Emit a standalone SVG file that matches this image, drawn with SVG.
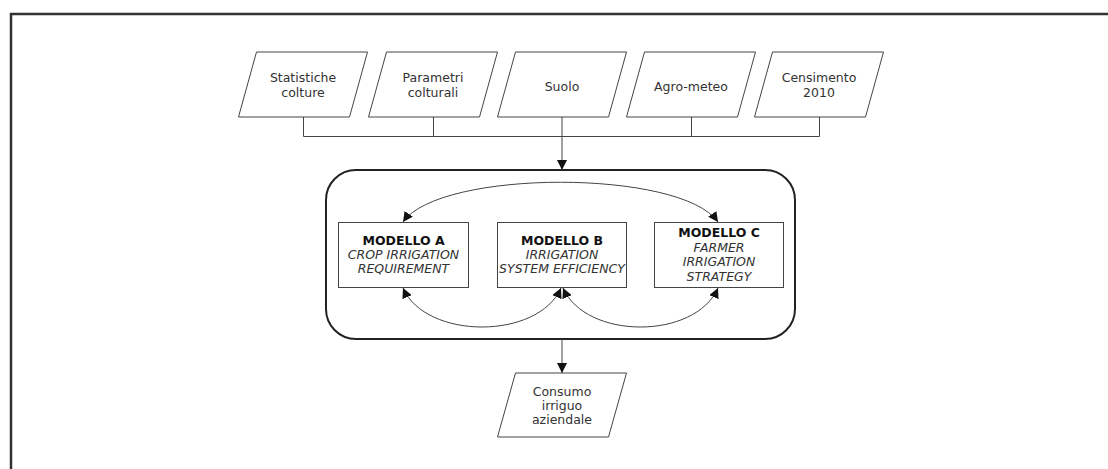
<svg xmlns="http://www.w3.org/2000/svg" width="1108" height="469" viewBox="0 0 1108 469">
<style>
.frame{fill:none;stroke:#333;stroke-width:2.5}
.io{fill:#fff;stroke:#444;stroke-width:1}
.box{fill:#fff;stroke:#444;stroke-width:1}
.group{fill:#fff;stroke:#222;stroke-width:2}
.t{font-family:"DejaVu Sans",Verdana,sans-serif;font-size:12.5px;fill:#333;text-anchor:middle}
.b{font-weight:bold;fill:#111}
.i{font-style:italic}
.c{fill:none;stroke:#444;stroke-width:1}
</style>
<defs>
<marker id="ah" viewBox="0 0 10 10" refX="10" refY="5" markerWidth="10" markerHeight="10" markerUnits="userSpaceOnUse" orient="auto-start-reverse">
<path d="M0,0 L10,5 L0,10 Z" fill="#111"/>
</marker>
</defs>
<rect width="1108" height="469" fill="#fff"/>
<path class="frame" d="M11,469 L11,14 L1108,14"/>

<g id="statistiche">
<polygon class="io" points="238.5,117 349.5,117 367.5,52 256.5,52"/>
<text class="t" x="303" y="82">Statistiche</text>
<text class="t" x="303" y="97">colture</text>
</g>
<g id="parametri">
<polygon class="io" points="368.5,117 479.5,117 497.5,52 386.5,52"/>
<text class="t" x="433" y="82">Parametri</text>
<text class="t" x="433" y="97">colturali</text>
</g>
<g id="suolo">
<polygon class="io" points="497.5,117 608.5,117 626.5,52 515.5,52"/>
<text class="t" x="562" y="91">Suolo</text>
</g>
<g id="agrometeo">
<polygon class="io" points="626.5,117 737.5,117 755.5,52 644.5,52"/>
<text class="t" x="691" y="91">Agro-meteo</text>
</g>
<g id="censimento">
<polygon class="io" points="754.5,117 865.5,117 883.5,52 772.5,52"/>
<text class="t" x="819" y="82">Censimento</text>
<text class="t" x="819" y="97">2010</text>
</g>

<g id="modelli">
<rect class="group" x="326" y="170" width="469" height="169" rx="30" ry="30"/>
</g>
<g id="modelloA">
<rect class="box" x="338.5" y="222.5" width="130" height="65"/>
<text class="t b" x="403.5" y="245">MODELLO A</text>
<text class="t i" x="403.5" y="259">CROP IRRIGATION</text>
<text class="t i" x="403.5" y="273">REQUIREMENT</text>
</g>
<g id="modelloB">
<rect class="box" x="497.5" y="222.5" width="129" height="65"/>
<text class="t b" x="562" y="245">MODELLO B</text>
<text class="t i" x="562" y="259">IRRIGATION</text>
<text class="t i" x="562" y="273">SYSTEM EFFICIENCY</text>
</g>
<g id="modelloC">
<rect class="box" x="654.5" y="222.5" width="129" height="65"/>
<text class="t b" x="719" y="237">MODELLO C</text>
<text class="t i" x="719" y="252">FARMER</text>
<text class="t i" x="719" y="266">IRRIGATION</text>
<text class="t i" x="719" y="281">STRATEGY</text>
</g>
<g id="consumo">
<polygon class="io" points="497.5,437 608.5,437 626.5,373 515.5,373"/>
<text class="t" x="562" y="396">Consumo</text>
<text class="t" x="562" y="410">irriguo</text>
<text class="t" x="562" y="424">aziendale</text>
</g>

<g id="connectors">
<path class="c" d="M303.5,117 V136.5 M433.5,117 V136.5 M691.5,117 V136.5 M819.5,117 V136.5 M303.5,136.5 H819.5"/>
<path class="c" d="M562,117 V170" marker-end="url(#ah)"/>
<path class="c" d="M562,339 V373" marker-end="url(#ah)"/>
<path class="c" d="M403,222 C440,169 681,169 718,222" marker-start="url(#ah)" marker-end="url(#ah)"/>
<path class="c" d="M403,288 C426,340 538,340 561,288" marker-start="url(#ah)" marker-end="url(#ah)"/>
<path class="c" d="M563,288 C586,340 695,340 718,288" marker-start="url(#ah)" marker-end="url(#ah)"/>
</g>
</svg>
